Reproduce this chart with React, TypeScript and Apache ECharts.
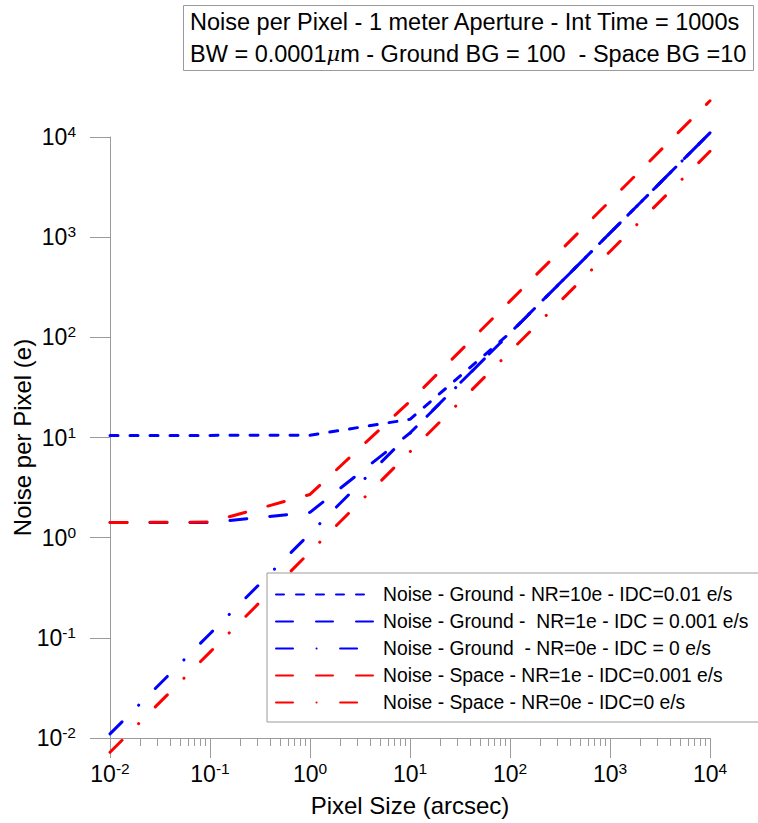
import React, { useEffect, useRef } from 'react';
import * as echarts from 'echarts';

// Pixel size (arcsec) sample points
const pixelSizes = [0.01, 0.1, 1, 10, 100, 1000, 10000];
// Noise per pixel (e)
const groundNR10 = [10.5, 10.5, 10.55, 15.2, 110.5, 1100, 11000];
const groundNR1 = [1.414, 1.418, 1.79, 11.1, 110, 1100, 11000];
const groundNR0 = [0.011, 0.11, 1.1, 11, 110, 1100, 11000];
const spaceNR1 = [1.414, 1.433, 2.7, 23, 230, 2300, 23000];
const spaceNR0 = [0.0072, 0.072, 0.72, 7.2, 72, 720, 7200];

const seriesNames = [
  'Noise - Ground - NR=10e - IDC=0.01 e/s',
  'Noise - Ground -  NR=1e - IDC = 0.001 e/s',
  'Noise - Ground  - NR=0e - IDC = 0 e/s',
  'Noise - Space - NR=1e - IDC=0.001 e/s',
  'Noise - Space - NR=0e - IDC=0 e/s',
];

const majorTicks = [0.01, 0.1, 1, 10, 100, 1000, 10000];
const minorTicks = [
  0.02, 0.03, 0.04, 0.05, 0.06, 0.07, 0.08, 0.09,
  0.2, 0.3, 0.4, 0.5, 0.6, 0.7, 0.8, 0.9,
  2, 3, 4, 5, 6, 7, 8, 9,
  20, 30, 40, 50, 60, 70, 80, 90,
  200, 300, 400, 500, 600, 700, 800, 900,
  2000, 3000, 4000, 5000, 6000, 7000, 8000, 9000,
];

const titleText =
  'Noise per Pixel - 1 meter Aperture - Int Time = 1000s\nBW = 0.0001{mu|μ}m - Ground BG = 100  - Space BG =10';

const FONT = '"Liberation Sans", Arial, Helvetica, sans-serif';
const GRAY = '#9b9b9b';
const BLUE = '#0000ff';
const RED = '#ff0000';

const SHORT_DASH = [8, 12];
const LONG_DASH = [17, 23];
const DASH_DOT = [17, 23.5, 0.1, 23.5];

export default function App() {
  const ref = useRef<HTMLDivElement>(null);

  useEffect(() => {
    document.body.style.margin = '0';
    const chart = echarts.init(ref.current!, null, { renderer: 'svg' });

    const labelFmt = (v: number) => `{b|10}{s|${Math.round(Math.log10(v))}}`;
    const rich = {
      b: { fontSize: 23, fontFamily: FONT, color: '#000', lineHeight: 27 },
      s: { fontSize: 15.5, fontFamily: FONT, color: '#000', lineHeight: 14, verticalAlign: 'top' },
    };

    const mk = (name: string, vals: number[], color: string, dash: number[]) => ({
      name,
      type: 'line',
      data: pixelSizes.map((x, i) => [x, vals[i]]),
      showSymbol: false,
      symbol: 'none',
      clip: false,
      silent: true,
      lineStyle: { color, width: 3, type: dash, cap: 'round' },
      itemStyle: { color },
      emphasis: { disabled: true },
    });

    chart.setOption({
      animation: false,
      backgroundColor: '#fff',
      title: {
        text: titleText,
        left: 183,
        top: 5,
        padding: [1, 7, 1, 7],
        borderColor: GRAY,
        borderWidth: 1,
        textStyle: {
          fontSize: 23.5,
          fontWeight: 'normal',
          fontFamily: FONT,
          color: '#000',
          lineHeight: 32,
          rich: {
            mu: {
              fontStyle: 'italic',
              fontFamily: '"DejaVu Serif", serif',
              fontSize: 21,
              lineHeight: 32,
              color: '#000',
            },
          },
        },
      },
      legend: {
        orient: 'vertical',
        left: 267,
        top: 573,
        padding: [12, 21, 10, 8],
        itemWidth: 97,
        itemHeight: 14,
        itemGap: 8,
        borderColor: GRAY,
        borderWidth: 1,
        backgroundColor: '#fff',
        selectedMode: false,
        itemStyle: { opacity: 0 },
        textStyle: { fontSize: 19.3, fontFamily: FONT, color: '#000', padding: [0, 0, 0, 5] },
        data: seriesNames,
      },
      grid: {
        left: 110,
        top: 137,
        width: 600,
        height: 601,
        containLabel: false,
        outerBoundsMode: 'none',
      },
      xAxis: [
        {
          type: 'log',
          logBase: 10,
          min: 0.01,
          max: 10000,
          splitNumber: 6,
          position: 'bottom',
          name: 'Pixel Size (arcsec)',
          nameLocation: 'middle',
          nameGap: 55,
          nameMoveOverlap: false,
          nameTextStyle: { fontSize: 24, fontFamily: FONT, color: '#000' },
          axisLine: { show: true, onZero: false, lineStyle: { color: GRAY, width: 1 } },
          axisTick: { show: true, length: 20, customValues: majorTicks, lineStyle: { color: GRAY } },
          axisLabel: { customValues: majorTicks, formatter: labelFmt, rich, margin: 22 },
          splitLine: { show: false },
          minorTick: { show: false },
        },
        {
          type: 'log',
          logBase: 10,
          min: 0.01,
          max: 10000,
          gridIndex: 0,
          position: 'bottom',
          axisLine: { show: false },
          axisTick: { show: true, length: 8, customValues: minorTicks, lineStyle: { color: GRAY } },
          axisLabel: { show: false },
          splitLine: { show: false },
        },
      ],
      yAxis: {
        type: 'log',
        logBase: 10,
        min: 0.01,
        max: 10000,
        splitNumber: 6,
        name: 'Noise per Pixel (e)',
        nameLocation: 'middle',
        nameGap: 76,
        nameMoveOverlap: false,
        nameTextStyle: { fontSize: 24, fontFamily: FONT, color: '#000' },
        axisLine: { show: true, onZero: false, lineStyle: { color: GRAY, width: 1 } },
        axisTick: { show: true, length: 20, customValues: majorTicks, lineStyle: { color: GRAY } },
        axisLabel: { customValues: majorTicks, formatter: labelFmt, rich, margin: 34 },
        splitLine: { show: false },
      },
      series: [
        mk(seriesNames[0], groundNR10, BLUE, SHORT_DASH),
        mk(seriesNames[1], groundNR1, BLUE, LONG_DASH),
        mk(seriesNames[2], groundNR0, BLUE, DASH_DOT),
        mk(seriesNames[3], spaceNR1, RED, LONG_DASH),
        mk(seriesNames[4], spaceNR0, RED, DASH_DOT),
      ],
    });

    return () => chart.dispose();
  }, []);

  return <div ref={ref} style={{ width: 758, height: 823 }} />;
}
